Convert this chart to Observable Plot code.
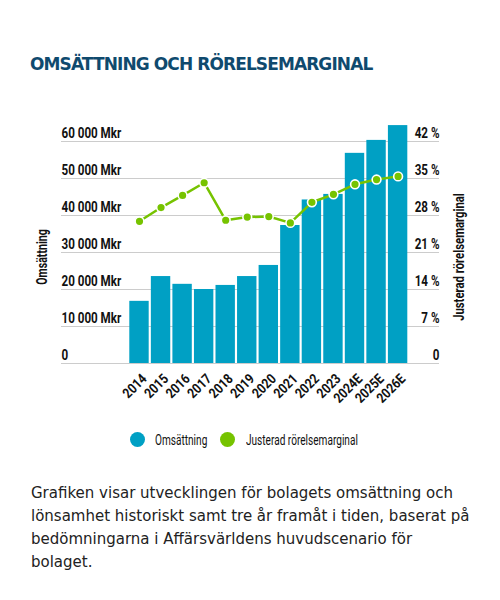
<!DOCTYPE html>
<html>
<head>
<meta charset="utf-8">
<script src="https://cdn.jsdelivr.net/npm/d3@7"></script>
<script src="https://cdn.jsdelivr.net/npm/@observablehq/plot@0.6"></script>
<style>
  html, body { margin: 0; padding: 0; background: #fff; }
  body { width: 500px; height: 600px; position: relative; overflow: hidden; }
  #title { position: absolute; left: 30px; top: 54px; font-family: "DejaVu Sans", sans-serif; font-weight: bold; font-size: 17px; color: #0f4a6e; white-space: nowrap; letter-spacing: -0.9px; }
  #chart { position: absolute; left: 0; top: 100px; }
  .ax { position: absolute; font-family: Roboto, sans-serif; font-weight: bold; font-size: 14.5px; color: #111; white-space: nowrap; line-height: 16px; }
  .sw { position: absolute; width: 15px; height: 15px; border-radius: 50%; }
  .lt { position: absolute; font-family: Roboto, sans-serif; font-size: 14px; color: #111; white-space: nowrap; line-height: 16px; transform-origin: 0 50%; transform: scaleX(0.72); }
  #caption { position: absolute; left: 31px; top: 482px; width: 440px; font-family: "DejaVu Sans", sans-serif; font-size: 15px; line-height: 23px; color: #222; }
</style>
</head>
<body>
<div id="title">OMSÄTTNING OCH RÖRELSEMARGINAL</div>
<div id="chart"></div>
<div id="legend"></div>
<div id="caption">Grafiken visar utvecklingen för bolagets omsättning och lönsamhet historiskt samt tre år framåt i tiden, baserat på bedömningarna i Affärsvärldens huvudscenario för bolaget.</div>
<script>
const years = ["2014","2015","2016","2017","2018","2019","2020","2021","2022","2023","2024E","2025E","2026E"];
const revenue = [16800, 23500, 21400, 20000, 21100, 23500, 26500, 37300, 44200, 45700, 56800, 60300, 64300];
const margin = [26.9, 29.5, 31.8, 34.2, 27.1, 27.7, 27.8, 26.6, 30.5, 32.0, 33.9, 34.8, 35.4];
const revTicks = [0, 10000, 20000, 30000, 40000, 50000, 60000];
const pctTicks = [0, 7, 14, 21, 28, 35, 42];
const leftTitle = "Omsättning";
const rightTitle = "Justerad rörelsemarginal";
const legendItems = [
  {label: "Omsättning", color: "#00a0c4"},
  {label: "Justerad rörelsemarginal", color: "#76c300"}
];

const blue = "#00a0c4", green = "#76c300";
const revMax = 60000, pctMax = 42;
const toRev = p => p * revMax / pctMax;
const data = years.map((y, i) => ({year: y, revenue: revenue[i], margin: margin[i]}));
const fmt = v => v === 0 ? "0" : d3.format(",")(v).replace(/,/g, " ") + " Mkr";

const chart = Plot.plot({
  width: 500,
  height: 320,
  marginTop: 41,
  marginBottom: 57,
  marginLeft: 61,
  marginRight: 61,
  style: {fontFamily: 'Roboto, sans-serif', fontSize: "14px", color: "#111", background: "transparent"},
  x: {type: "band", domain: years, paddingInner: 0.1, paddingOuter: 2.32, align: 0.683, round: false, axis: null},
  y: {domain: [0, revMax], axis: null},
  marks: [
    Plot.ruleY(revTicks, {stroke: "#cccccc", strokeWidth: 1}),
    Plot.barY(data, {x: "year", y: "revenue", fill: blue}),
    Plot.line(data, {x: "year", y: d => toRev(d.margin), stroke: green, strokeWidth: 2.5}),
    Plot.dot(data, {x: "year", y: d => toRev(d.margin), r: 4.4, fill: green, stroke: "white", strokeWidth: 1.6}),
    Plot.text(revTicks, {y: d => d, text: fmt, frameAnchor: "left", textAnchor: "start", lineAnchor: "bottom", dy: -4, fontWeight: "bold", fill: "#111"}),
    Plot.text(pctTicks, {y: d => toRev(d), text: d => d === 0 ? "0" : d + " %", frameAnchor: "right", textAnchor: "end", lineAnchor: "bottom", dy: -4, fontWeight: "bold", fill: "#111"}),
    Plot.text(years, {x: d => d, text: d => d, frameAnchor: "bottom", rotate: -45, textAnchor: "end", lineAnchor: "middle", dx: 5, dy: 13, fontWeight: "bold", fill: "#111", fontSize: 14})
  ]
});
document.getElementById("chart").appendChild(chart);

// compress text horizontally to mimic the condensed face
const factors = [0.83, 0.83, 0.85];
chart.querySelectorAll('g[aria-label="text"]').forEach((g, gi) => {
  g.querySelectorAll("text").forEach(t => {
    const w = t.getComputedTextLength();
    t.setAttribute("textLength", (w * factors[gi]).toFixed(2));
    t.setAttribute("lengthAdjust", "spacingAndGlyphs");
  });
});

// axis titles
function axisTitle(txt, cx, cy, sx) {
  const d = document.createElement("div");
  d.className = "ax";
  d.textContent = txt;
  d.style.left = cx + "px";
  d.style.top = cy + "px";
  d.style.transform = `translate(-50%,-50%) rotate(-90deg) scaleX(${sx})`;
  document.body.appendChild(d);
}
axisTitle(leftTitle, 43, 257, 0.73);
axisTitle(rightTitle, 460, 257, 0.78);

const legend = document.getElementById("legend");
const swX = [129.5, 219.5];
const txX = [155, 245.5];
legendItems.forEach((it, i) => {
  const sw = document.createElement("div");
  sw.className = "sw";
  sw.style.left = swX[i] + "px";
  sw.style.top = "432px";
  sw.style.background = it.color;
  legend.appendChild(sw);
  const t = document.createElement("div");
  t.className = "lt";
  t.style.left = txX[i] + "px";
  t.style.top = "432px";
  t.textContent = it.label;
  legend.appendChild(t);
});
</script>
</body>
</html>
